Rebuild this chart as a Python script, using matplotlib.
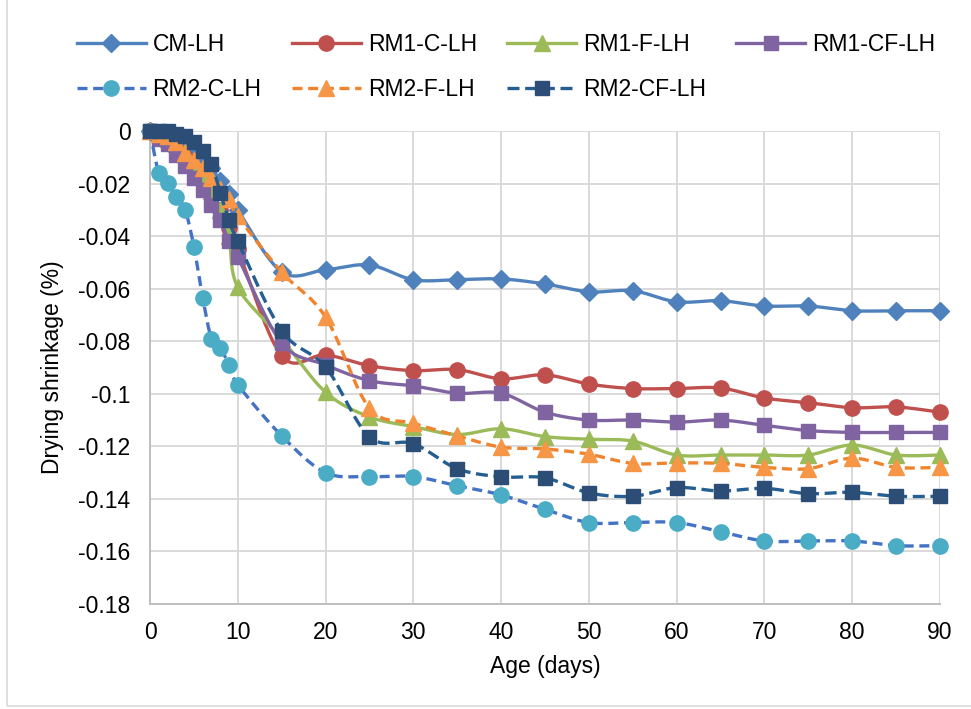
import matplotlib
matplotlib.use("Agg")
import matplotlib.pyplot as plt
from matplotlib.lines import Line2D
from matplotlib.patches import Rectangle
import numpy as np

plt.rcParams['font.family'] = ['Liberation Sans', 'DejaVu Sans']

# age in days
days = [0, 1, 2, 3, 4, 5, 6, 7, 8, 9, 10,
        15, 20, 25, 30, 35, 40, 45, 50, 55, 60, 65, 70, 75, 80, 85, 90]

cm_lh = [0, -0.001, -0.002, -0.004, -0.006, -0.008, -0.011, -0.014, -0.019, -0.024, -0.030,
         -0.0536, -0.0528, -0.0510, -0.0566, -0.0566, -0.0563, -0.0582, -0.0612, -0.0608,
         -0.0650, -0.0646, -0.0666, -0.0666, -0.0684, -0.0684, -0.0684]
rm1_c_lh = [0, -0.002, -0.004, -0.007, -0.010, -0.014, -0.019, -0.024, -0.030, -0.037, -0.045,
            -0.0856, -0.0852, -0.0893, -0.0912, -0.0908, -0.0943, -0.0928, -0.0963, -0.0980,
            -0.0980, -0.0978, -0.1016, -0.1034, -0.1053, -0.1050, -0.1070]
rm1_f_lh = [0, -0.001, -0.003, -0.005, -0.008, -0.012, -0.017, -0.023, -0.030, -0.040, -0.0595,
            -0.0790, -0.0994, -0.1088, -0.1125, -0.1155, -0.1133, -0.1163, -0.1173, -0.1180,
            -0.1233, -0.1233, -0.1233, -0.1233, -0.1195, -0.1233, -0.1233]
rm1_cf_lh = [0, -0.003, -0.005, -0.009, -0.0135, -0.018, -0.0225, -0.028, -0.034, -0.042, -0.048,
             -0.0807, -0.0890, -0.0950, -0.0970, -0.0998, -0.0998, -0.1070, -0.1100, -0.1100,
             -0.1108, -0.1100, -0.1120, -0.1140, -0.1147, -0.1147, -0.1147]
rm2_c_lh = [0, -0.016, -0.0198, -0.025, -0.030, -0.044, -0.0635, -0.079, -0.0825, -0.089, -0.0965,
            -0.1160, -0.1300, -0.1315, -0.1315, -0.1350, -0.1385, -0.1440, -0.1490, -0.1490,
            -0.1490, -0.1525, -0.1560, -0.1560, -0.1560, -0.1578, -0.1578]
rm2_f_lh = [0, -0.001, -0.002, -0.004, -0.0085, -0.011, -0.014, -0.018, -0.022, -0.026, -0.0325,
            -0.0537, -0.0708, -0.1054, -0.1112, -0.1160, -0.1203, -0.1210, -0.1230, -0.1265,
            -0.1263, -0.1265, -0.1280, -0.1285, -0.1245, -0.1280, -0.1280]
rm2_cf_lh = [0, 0, 0, -0.001, -0.002, -0.004, -0.0076, -0.0125, -0.0235, -0.034, -0.042,
             -0.0760, -0.0898, -0.1164, -0.1190, -0.1285, -0.1316, -0.1320, -0.1377, -0.1390,
             -0.1357, -0.1370, -0.1360, -0.1380, -0.1375, -0.1390, -0.1390]

names = ['CM-LH', 'RM1-C-LH', 'RM1-F-LH', 'RM1-CF-LH', 'RM2-C-LH', 'RM2-F-LH', 'RM2-CF-LH']
series = [cm_lh, rm1_c_lh, rm1_f_lh, rm1_cf_lh, rm2_c_lh, rm2_f_lh, rm2_cf_lh]

xticks = [0, 10, 20, 30, 40, 50, 60, 70, 80, 90]
yticks = [-0.18, -0.16, -0.14, -0.12, -0.1, -0.08, -0.06, -0.04, -0.02, 0]
ytick_labels = ['-0.18', '-0.16', '-0.14', '-0.12', '-0.1', '-0.08', '-0.06', '-0.04', '-0.02', '0']

# line colour, line style, marker, marker colour, marker size
styles = [
    ('#4F81BD', '-', 'D', '#4F81BD', 9),
    ('#C0504D', '-', 'o', '#C0504D', 11),
    ('#9BBB59', '-', '^', '#9BBB59', 11),
    ('#8064A2', '-', 's', '#8064A2', 10.5),
    ('#4472C4', (0, (3.0, 1.7)), 'o', '#4BACC6', 11),
    ('#F0842E', (0, (3.0, 1.7)), '^', '#F79646', 11),
    ('#255E91', (0, (3.6, 1.7)), 's', '#2C4D75', 10.5),
]


def smooth(x, y, n=24):
    # Excel-like smoothed line (cubic bezier through the points)
    p = np.column_stack([x, y]).astype(float)
    xs, ys = [], []
    for i in range(len(p) - 1):
        p0 = p[max(i - 1, 0)]
        p1 = p[i]
        p2 = p[i + 1]
        p3 = p[min(i + 2, len(p) - 1)]
        c1 = p1 + (p2 - p0) / 6.0
        c2 = p2 - (p3 - p1) / 6.0
        t = np.linspace(0, 1, n)[:, None]
        seg = (1 - t) ** 3 * p1 + 3 * (1 - t) ** 2 * t * c1 + 3 * (1 - t) * t ** 2 * c2 + t ** 3 * p2
        xs.extend(seg[:, 0])
        ys.extend(seg[:, 1])
    return xs, ys


fig = plt.figure(figsize=(9.71, 7.09), dpi=100)
ax = fig.add_axes([150 / 971, 1 - 604 / 709, 790 / 971, 473 / 709])

handles = []
for k, (name, vals) in enumerate(zip(names, series)):
    lc, ls, mk, mc, ms = styles[k]
    sx, sy = smooth(days, vals)
    ax.plot(sx, sy, color=lc, ls=ls, lw=2.4, zorder=3 + k, solid_capstyle='round',
            dash_capstyle='butt')
    ax.plot(days, vals, ls='none', marker=mk, ms=ms, mfc=mc, mec=mc, zorder=3 + k,
            clip_on=False)
    handles.append(Line2D([], [], color=lc, ls=ls, lw=2.4, marker=mk, ms=ms, mfc=mc, mec=mc))

ax.set_xlim(0, 90)
ax.set_ylim(-0.18, 0)
ax.set_xticks(xticks)
ax.set_yticks(yticks)
ax.set_yticklabels(ytick_labels)
ax.tick_params(length=0, labelsize=16.5, colors='black')
ax.tick_params(axis='x', pad=12)
ax.tick_params(axis='y', pad=14)
ax.grid(True, color='#D9D9D9', lw=1.4)
ax.set_axisbelow(True)
for side in ['top', 'right']:
    ax.spines[side].set_visible(False)
for side in ['left', 'bottom']:
    ax.spines[side].set_color('#BFBFBF')
    ax.spines[side].set_linewidth(1.4)

ax.set_xlabel('Age (days)', fontsize=16.5, labelpad=8)
ax.set_ylabel('Drying shrinkage (%)', fontsize=16.5, labelpad=10)

# legend is filled column by column, so order the entries to read row by row
order = [0, 4, 1, 5, 2, 6, 3]
fig.legend([handles[i] for i in order], [names[i] for i in order], ncol=4, loc='upper left',
           bbox_to_anchor=(77 / 971, 1 - 33 / 709),
           frameon=False, fontsize=16.5, handlelength=3.0, handletextpad=0.3,
           columnspacing=1.33, labelspacing=0.95, borderpad=0, borderaxespad=0)

# chart area border
fig.patches.append(Rectangle((7 / 971, 3 / 709), 970 / 971, 1.0, transform=fig.transFigure,
                             fill=False, edgecolor='#D9D9D9', lw=1.2))

fig.savefig('out.png', dpi=100)
